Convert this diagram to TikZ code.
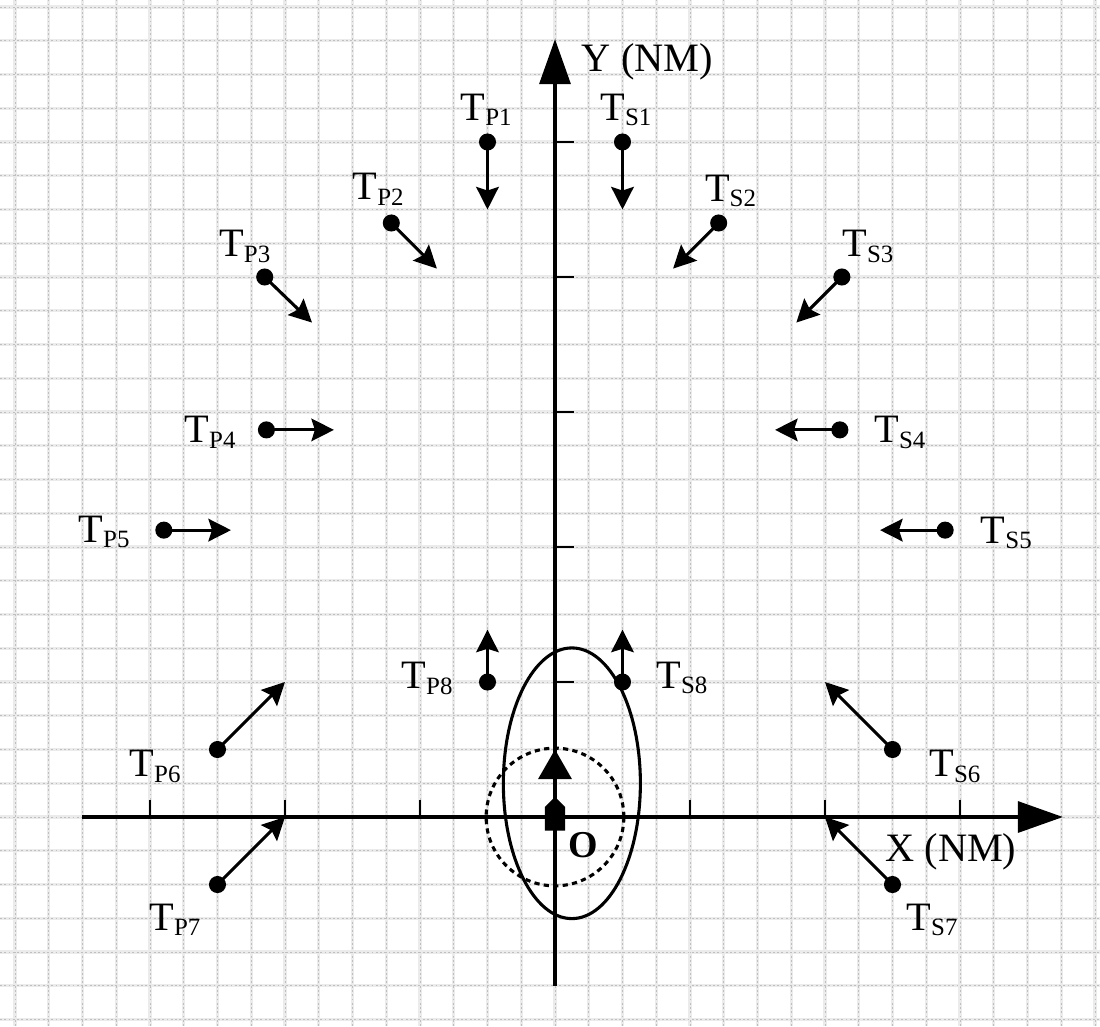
\documentclass[tikz,border=0pt]{standalone}
\usepackage{fontspec}
\setmainfont{Liberation Serif}
\usetikzlibrary{arrows.meta}
\newcommand{\tsub}[1]{T\raisebox{-0.3ex}{\fontsize{10.5}{10.5}\selectfont #1}}
\begin{document}
\begin{tikzpicture}[x=0.5cm,y=0.5cm,
  gridA/.style={draw=gray!16, line width=1.3pt},
  gridB/.style={draw=gray!50, line width=0.4pt, dash pattern=on 0.8pt off 1pt},
  axisline/.style={line width=1.6pt, -{Triangle[length=19pt,width=13pt]}},
  tickline/.style={line width=0.9pt},
  tdot/.style={circle, fill=black, inner sep=0pt, minimum size=7.2pt},
  tarr/.style={line width=1.3pt, -{Stealth[length=9.5pt,width=9.5pt,inset=1.5pt]}},
  lab/.style={font=\fontsize{17}{17}\selectfont, inner sep=0pt},
]
\useasboundingbox (-16.444,-6.193) rectangle (16.148,24.207);
\fill[white] (-16.444,-6.193) rectangle (16.148,24.207);
% grid
\foreach \x in {-16,...,16} { \draw[gridA] (\x,-6.193) -- (\x,24.207); }
\foreach \y in {-6,...,24} { \draw[gridA] (-16.444,\y) -- (16.148,\y); }
\foreach \x in {-16,...,16} { \draw[gridB] (\x,-6.193) -- (\x,24.207); }
\foreach \y in {-6,...,24} { \draw[gridB] (-16.444,\y) -- (16.148,\y); }
% axes
\coordinate (xs) at (-14,0);
\coordinate (xe) at (15.05,0);
\coordinate (ys) at (0,-5);
\coordinate (ye) at (0,23.05);
\draw[axisline] (xs) -- (xe);
\draw[axisline] (ys) -- (ye);
\foreach \x in {-12,-8,-4,4,8,12} { \draw[tickline] (\x,0) -- (\x,0.5); }
\foreach \y in {4,8,12,16,20} { \draw[tickline] (0,\y) -- (0.55,\y); }
\node[lab] (ylab) at (2.74,22.37) {Y (NM)};
\node[lab] (xlab) at (11.73,-1.04) {X (NM)};
\node[font=\fontsize{16}{16}\selectfont\bfseries, inner sep=0pt] (olab) at (0.83,-0.83) {O};
% ellipse and dashed circle
\draw[line width=1.3pt] (0.5,1) ellipse [x radius=2.03, y radius=4.01];
\draw[line width=1.3pt, dash pattern=on 2.2pt off 1.8pt] (0,0) circle [radius=2.04];
% own ship
\fill (-0.3,-0.4) -- (0.3,-0.4) -- (0.3,0.3) -- (0,0.6) -- (-0.3,0.3) -- cycle;
\coordinate (own) at (0,0.6);
\coordinate (ownv) at (0,2);
\draw[line width=1.3pt, -{Triangle[length=12.5pt,width=14pt]}] (own) -- (ownv);
% targets: dots
\node[tdot] (p1) at (-2,20) {};
\node[tdot] (s1) at (2,20) {};
\node[tdot] (p2) at (-4.85,17.6) {};
\node[tdot] (s2) at (4.85,17.6) {};
\node[tdot] (p3) at (-8.6,16) {};
\node[tdot] (s3) at (8.5,16) {};
\node[tdot] (p4) at (-8.55,11.47) {};
\node[tdot] (s4) at (8.44,11.47) {};
\node[tdot] (p5) at (-11.59,8.5) {};
\node[tdot] (s5) at (11.56,8.5) {};
\node[tdot] (p6) at (-10,2) {};
\node[tdot] (s6) at (10,2) {};
\node[tdot] (p7) at (-10,-2) {};
\node[tdot] (s7) at (10,-2) {};
\node[tdot] (p8) at (-2,4) {};
\node[tdot] (s8) at (2,4) {};
% arrow ends
\coordinate (p1e) at (-2,18);
\coordinate (s1e) at (2,18);
\coordinate (p2e) at (-3.5,16.25);
\coordinate (s2e) at (3.5,16.25);
\coordinate (p3e) at (-7.2,14.65);
\coordinate (s3e) at (7.15,14.65);
\coordinate (p4e) at (-6.55,11.47);
\coordinate (s4e) at (6.52,11.47);
\coordinate (p5e) at (-9.6,8.5);
\coordinate (s5e) at (9.63,8.5);
\coordinate (p6e) at (-8,4);
\coordinate (s6e) at (8,4);
\coordinate (p7e) at (-8,0);
\coordinate (s7e) at (8,0);
\coordinate (p8e) at (-2,5.55);
\coordinate (s8e) at (2,5.55);
\foreach \n in {p1,s1,p2,s2,p3,s3,p4,s4,p5,s5,p6,s6,p7,s7,p8,s8} {
  \draw[tarr] (\n.center) -- (\n e);
}
% labels
\node[lab] (lp1) at (-2.04,20.95) {\tsub{P1}};
\node[lab] (ls1) at (2.1,20.95) {\tsub{S1}};
\node[lab] (lp2) at (-5.24,18.6) {\tsub{P2}};
\node[lab] (ls2) at (5.2,18.55) {\tsub{S2}};
\node[lab] (lp3) at (-9.19,16.9) {\tsub{P3}};
\node[lab] (ls3) at (9.27,16.9) {\tsub{S3}};
\node[lab] (lp4) at (-10.22,11.4) {\tsub{P4}};
\node[lab] (ls4) at (10.22,11.4) {\tsub{S4}};
\node[lab] (lp5) at (-13.36,8.45) {\tsub{P5}};
\node[lab] (ls5) at (13.37,8.42) {\tsub{S5}};
\node[lab] (lp6) at (-11.85,1.5) {\tsub{P6}};
\node[lab] (ls6) at (11.85,1.5) {\tsub{S6}};
\node[lab] (lp7) at (-11.26,-3.05) {\tsub{P7}};
\node[lab] (ls7) at (11.17,-3.05) {\tsub{S7}};
\node[lab] (lp8) at (-3.79,4.1) {\tsub{P8}};
\node[lab] (ls8) at (3.76,4.12) {\tsub{S8}};
\end{tikzpicture}
\end{document}
